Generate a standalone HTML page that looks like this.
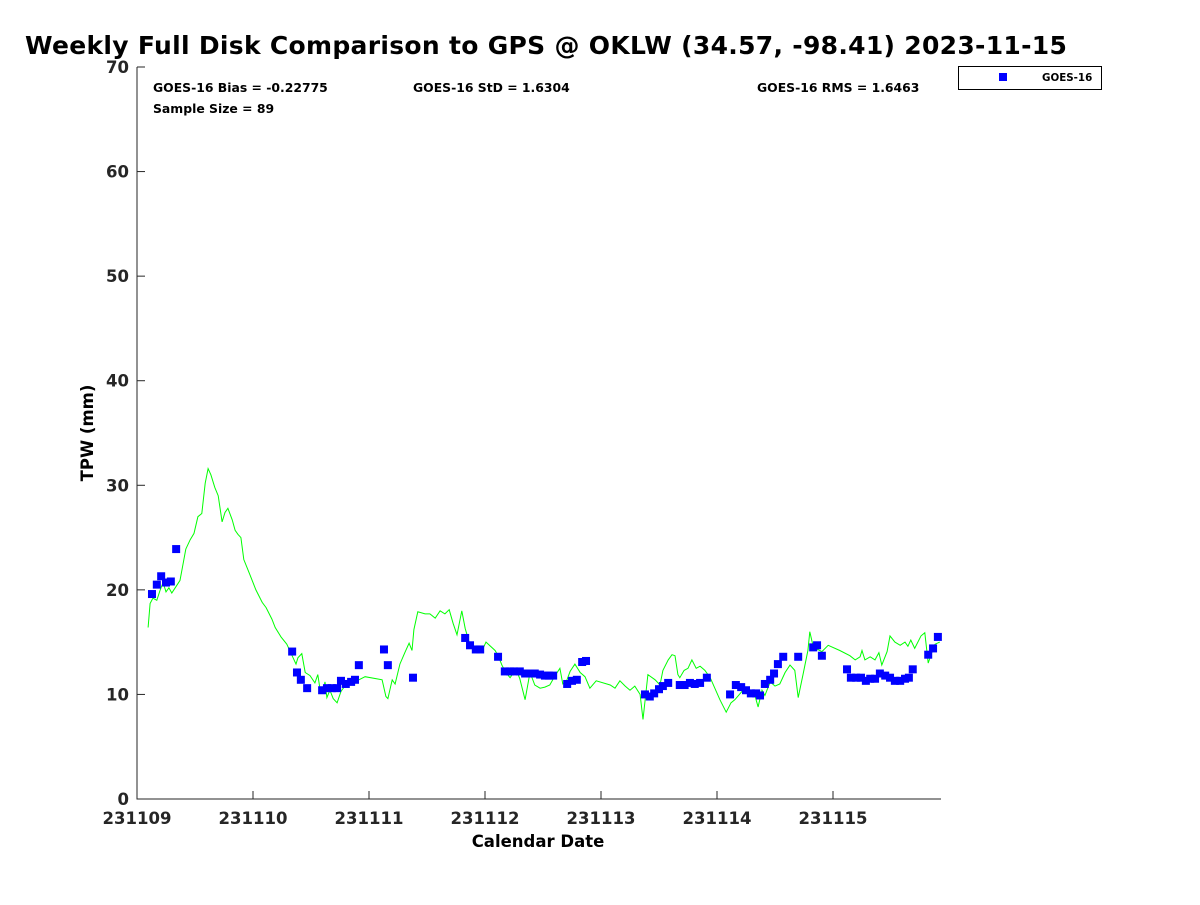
<!DOCTYPE html>
<html><head><meta charset="utf-8"><style>
body{margin:0;background:#fff}
svg{font-family:"DejaVu Sans","Liberation Sans",sans-serif;font-weight:bold}
</style></head><body>
<svg id="chart" width="1200" height="900" viewBox="0 0 1200 900" xmlns="http://www.w3.org/2000/svg">
<text x="25" y="54" font-size="25" letter-spacing="0.3">Weekly Full Disk Comparison to GPS @ OKLW (34.57, -98.41) 2023-11-15</text>
<rect x="137" y="67" width="804" height="732" fill="#fff"/>
<g id="axes"></g>
<g id="series"></g>
<text x="153" y="92" font-size="12.4">GOES-16 Bias = -0.22775</text>
<text x="413" y="92" font-size="12.4">GOES-16 StD = 1.6304</text>
<text x="757" y="92" font-size="12.4">GOES-16 RMS = 1.6463</text>
<text x="153" y="113" font-size="12.4">Sample Size = 89</text>
<g>
<rect x="958.5" y="66.5" width="143" height="23" fill="#fff" stroke="#000" stroke-width="1"/>
<rect x="999" y="73" width="8" height="8" fill="#0000ff"/>
<text x="1042" y="81" font-size="10.3">GOES-16</text>
</g>
<text x="538" y="847" font-size="16.5" text-anchor="middle">Calendar Date</text>
<text transform="translate(93,433) rotate(-90)" font-size="16.5" text-anchor="middle">TPW (mm)</text>
</svg>
<script>
const xTickLabels=["231109","231110","231111","231112","231113","231114","231115"];
const yTickLabels=[0,10,20,30,40,50,60,70];
const gpsHours=[2.3,2.7,3.3,4.1,4.8,5.4,6.0,6.6,7.2,7.9,8.9,9.5,10.1,11.0,11.8,12.6,13.4,14.1,14.7,15.3,16.1,16.8,17.6,18.2,18.8,19.7,20.3,20.9,21.5,22.1,23.4,24.6,25.9,26.7,27.9,28.6,29.8,31.0,32.1,32.9,33.3,34.1,34.8,35.8,36.8,37.4,37.9,38.5,38.9,39.3,39.9,40.6,41.4,42.2,43.0,44.1,45.1,45.9,47.2,50.7,51.5,51.9,52.8,53.4,54.4,55.5,56.3,56.9,57.3,58.1,59.6,60.6,61.7,62.7,63.7,64.6,65.4,66.2,67.2,67.9,68.9,69.9,70.6,71.4,72.2,74.1,74.7,75.5,76.3,77.2,78.4,79.2,80.3,81.3,82.3,83.4,84.4,85.4,86.5,87.5,88.1,88.8,89.6,90.6,91.7,92.7,93.7,95.0,97.9,98.9,99.9,101.0,102.0,103.0,104.1,104.7,105.7,107.2,108.2,108.8,109.9,110.7,111.3,111.9,112.3,113.2,114.0,114.8,115.7,116.5,117.5,118.6,120.6,121.9,122.9,123.7,125.0,125.8,126.8,127.9,128.5,129.3,129.9,131.0,132.0,133.0,134.1,135.1,136.1,136.8,137.8,138.8,139.2,140.1,140.9,141.7,143.0,145.4,147.5,148.6,149.6,150.0,150.6,151.7,152.7,153.5,154.1,155.2,155.8,156.8,157.9,158.9,159.5,160.1,160.9,162.2,163.0,163.7,164.5,165.1,166.1];
const gpsTpw=[16.4,18.7,19.2,19.0,20.0,20.7,19.8,20.2,19.7,20.2,20.9,22.4,23.9,24.8,25.4,27.0,27.3,30.2,31.6,31.0,29.8,29.0,26.5,27.4,27.8,26.7,25.7,25.3,25.0,22.9,21.4,20.0,18.8,18.3,17.2,16.4,15.5,14.8,13.7,12.9,13.5,13.9,12.1,11.8,11.1,11.9,10.4,10.2,11.2,9.7,10.4,9.6,9.2,10.3,10.8,11.1,11.2,11.4,11.7,11.4,9.8,9.6,11.4,11.0,12.9,14.1,14.9,14.2,16.2,17.9,17.7,17.7,17.3,18.0,17.7,18.1,16.8,15.7,18.0,16.3,14.7,14.6,14.1,14.2,15.0,14.2,13.7,12.8,12.1,11.6,12.4,11.5,9.5,12.1,10.9,10.6,10.7,10.9,11.8,12.5,11.0,11.2,12.2,12.9,12.1,11.7,10.6,11.3,10.9,10.6,11.3,10.8,10.4,10.8,10.0,7.6,11.9,11.4,10.9,12.3,13.3,13.8,13.7,11.9,11.6,12.3,12.5,13.3,12.5,12.7,12.3,11.6,9.5,8.3,9.2,9.5,10.2,10.6,10.4,9.8,8.8,10.4,9.9,11.2,10.8,11.0,12.1,12.8,12.3,9.7,11.9,14.2,16.0,14.2,14.3,14.1,14.7,14.2,13.7,13.3,13.6,14.2,13.3,13.6,13.3,14.0,12.8,14.1,15.6,15.0,14.7,15.0,14.6,15.2,14.4,15.6,15.9,13.0,14.1,14.8,15.0];
const goesHours=[3.1,4.1,5.0,6.0,7.0,8.1,32.1,33.1,33.9,35.2,38.3,39.3,40.3,41.4,42.2,43.2,44.3,45.1,45.9,51.1,51.9,57.1,67.9,68.9,70.1,71.0,74.7,76.1,77.2,78.0,79.2,80.3,81.3,82.3,83.4,84.4,85.2,86.1,89.0,90.0,91.0,92.1,92.9,105.1,106.1,107.0,108.0,108.8,109.9,112.3,113.3,114.4,115.4,116.5,117.9,122.7,123.9,125.0,126.0,127.0,128.1,128.9,129.9,131.0,131.8,132.6,133.7,136.8,139.9,140.7,141.7,146.9,147.7,148.8,149.8,150.8,151.7,152.7,153.7,154.8,155.8,156.8,157.9,158.9,159.7,160.5,163.7,164.7,165.7];
const goesTpw=[19.6,20.5,21.3,20.7,20.8,23.9,14.1,12.1,11.4,10.6,10.4,10.6,10.6,10.6,11.3,11.0,11.2,11.4,12.8,14.3,12.8,11.6,15.4,14.7,14.3,14.3,13.6,12.2,12.2,12.2,12.2,12.0,12.0,12.0,11.9,11.8,11.8,11.8,11.0,11.3,11.4,13.1,13.2,10.0,9.8,10.1,10.5,10.8,11.1,10.9,10.9,11.1,11.0,11.1,11.6,10.0,10.9,10.7,10.4,10.1,10.1,9.9,11.0,11.4,12.0,12.9,13.6,13.6,14.5,14.7,13.7,12.4,11.6,11.6,11.6,11.3,11.5,11.5,12.0,11.8,11.6,11.3,11.3,11.5,11.6,12.4,13.8,14.4,15.5];

const NS='http://www.w3.org/2000/svg';
const X0=137,X1=941,Y0=799,Y1=67,DAYPX=116;
const xs=h=>X0+h/24*DAYPX;
const ys=v=>Y0-(v/70)*(Y0-Y1);
function mk(tag,attrs,parent){const e=document.createElementNS(NS,tag);for(const k in attrs)e.setAttribute(k,attrs[k]);parent.appendChild(e);return e;}
const axes=document.getElementById('axes');
const series=document.getElementById('series');
const frame=mk('path',{d:`M${X0} ${Y1}V${Y0}H${X1}`,fill:'none',stroke:'#262626','stroke-width':1},axes);


yTickLabels.forEach(v=>{
  const y=ys(v);
  const t=mk('line',{x1:X0,x2:X0+8,y1:y,y2:y,stroke:'#262626'},axes);
  
  
  const l=mk('text',{x:X0-8,y:y+6,'font-size':16.5,'text-anchor':'end',fill:'#262626'},axes);
  l.textContent=v;
  
  
});
xTickLabels.forEach((s,i)=>{
  const x=xs(i*24);
  const t=mk('line',{x1:x,x2:x,y1:Y0,y2:Y0-8,stroke:'#262626'},axes);
  
  
  const l=mk('text',{x:x,y:Y0+25,'font-size':16.5,'text-anchor':'middle',fill:'#262626'},axes);
  l.textContent=s;
  
  
});
const pts=gpsHours.map((h,i)=>xs(h).toFixed(1)+','+ys(gpsTpw[i]).toFixed(1)).join(' ');
const line=mk('polyline',{points:pts,fill:'none',stroke:'#00ff00','stroke-width':1},series);


goesHours.forEach((h,i)=>{
  const r=mk('rect',{x:xs(h)-4,y:ys(goesTpw[i])-4,width:8,height:8,fill:'#0000ff'},series);
  
  
});
</script>
</body></html>
